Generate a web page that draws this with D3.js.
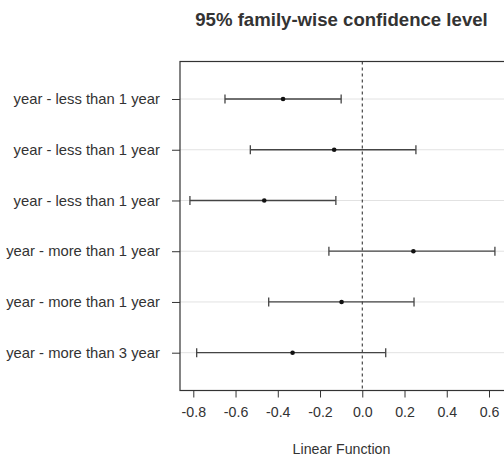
<!DOCTYPE html>
<html>
<head>
<meta charset="utf-8">
<script src="https://cdn.jsdelivr.net/npm/d3@7"></script>
<style>
  html, body { margin: 0; padding: 0; background: #fff; }
  svg { display: block; }
  text { font-family: "Liberation Sans", Arial, sans-serif; fill: #333; }
</style>
</head>
<body>
<svg id="chart" width="504" height="459"></svg>
<script>
// ---- data ----
const comparisons = [
  "year - less than 1 year",
  "year - less than 1 year",
  "year - less than 1 year",
  "year - more than 1 year",
  "year - more than 1 year",
  "year - more than 3 year"
];
const diffs = [-0.375, -0.133, -0.464, 0.242, -0.098, -0.330];
const lowers = [-0.650, -0.530, -0.816, -0.158, -0.443, -0.784];
const uppers = [-0.100, 0.254, -0.125, 0.628, 0.245, 0.111];
const xTicks = [-0.8, -0.6, -0.4, -0.2, 0.0, 0.2, 0.4, 0.6];
const titleText = "95% family-wise confidence level";
const xLabel = "Linear Function";

// ---- layout ----
const svg = d3.select("#chart");
const box = { left: 180, top: 61.5, bottom: 390.5, right: 530 };

const x = d3.scaleLinear().domain([-0.8, 0.6]).range([193.3, 489]);
const rowIdx = comparisons.map((d, i) => i);
const y = d3.scalePoint().domain(rowIdx).range([99, 352.7]);

// grid lines (horizontal, light grey)
svg.append("g").selectAll("line").data(rowIdx).join("line")
  .attr("x1", box.left).attr("x2", box.right)
  .attr("y1", d => y(d)).attr("y2", d => y(d))
  .attr("stroke", "#e2e2e2").attr("stroke-width", 1);

// vertical dashed line at 0
svg.append("line")
  .attr("x1", x(0)).attr("x2", x(0))
  .attr("y1", box.top).attr("y2", box.bottom)
  .attr("stroke", "#222").attr("stroke-width", 1)
  .attr("stroke-dasharray", "3,3");

// intervals
const g = svg.append("g");
rowIdx.forEach(i => {
  const yy = y(i);
  g.append("line")
    .attr("x1", x(lowers[i])).attr("x2", x(uppers[i]))
    .attr("y1", yy).attr("y2", yy)
    .attr("stroke", "#444").attr("stroke-width", 1.3);
  [lowers[i], uppers[i]].forEach(v => {
    g.append("line")
      .attr("x1", x(v)).attr("x2", x(v))
      .attr("y1", yy - 4.5).attr("y2", yy + 4.5)
      .attr("stroke", "#444").attr("stroke-width", 1.3);
  });
  g.append("circle")
    .attr("cx", x(diffs[i])).attr("cy", yy).attr("r", 2.3)
    .attr("fill", "#111");
});

// box
svg.append("rect")
  .attr("x", box.left).attr("y", box.top)
  .attr("width", box.right - box.left).attr("height", box.bottom - box.top)
  .attr("fill", "none").attr("stroke", "#333").attr("stroke-width", 1.2);

// x axis
const xAxis = d3.axisBottom(x).tickValues(xTicks)
  .tickFormat(d3.format(".1f")).tickSize(7).tickPadding(9);
const gx = svg.append("g").attr("transform", `translate(0,${box.bottom})`).call(xAxis);
gx.select(".domain").remove();
gx.selectAll(".tick line").attr("stroke", "#333");
gx.selectAll(".tick text")
  .attr("font-size", 14.2).attr("fill", "#3a3a3a")
  .attr("font-family", "Liberation Sans, Arial, sans-serif")
  .text(d => d3.format(".1f")(d).replace("−", "-"));

// y axis
const yAxis = d3.axisLeft(y).tickFormat(i => comparisons[i]).tickSize(8).tickPadding(12);
const gy = svg.append("g").attr("transform", `translate(${box.left},0)`).call(yAxis);
gy.select(".domain").remove();
gy.selectAll(".tick line").attr("stroke", "#333");
gy.selectAll(".tick text")
  .attr("font-size", 14.8).attr("fill", "#3a3a3a")
  .attr("font-family", "Liberation Sans, Arial, sans-serif");

// title
svg.append("text")
  .attr("x", 341.5).attr("y", 26)
  .attr("text-anchor", "middle")
  .attr("font-size", 18.6).attr("font-weight", "bold").attr("fill", "#222")
  .text(titleText);

// x label
svg.append("text")
  .attr("x", 341.5).attr("y", 454)
  .attr("text-anchor", "middle")
  .attr("font-size", 14.2).attr("fill", "#3a3a3a")
  .text(xLabel);
</script>
</body>
</html>
